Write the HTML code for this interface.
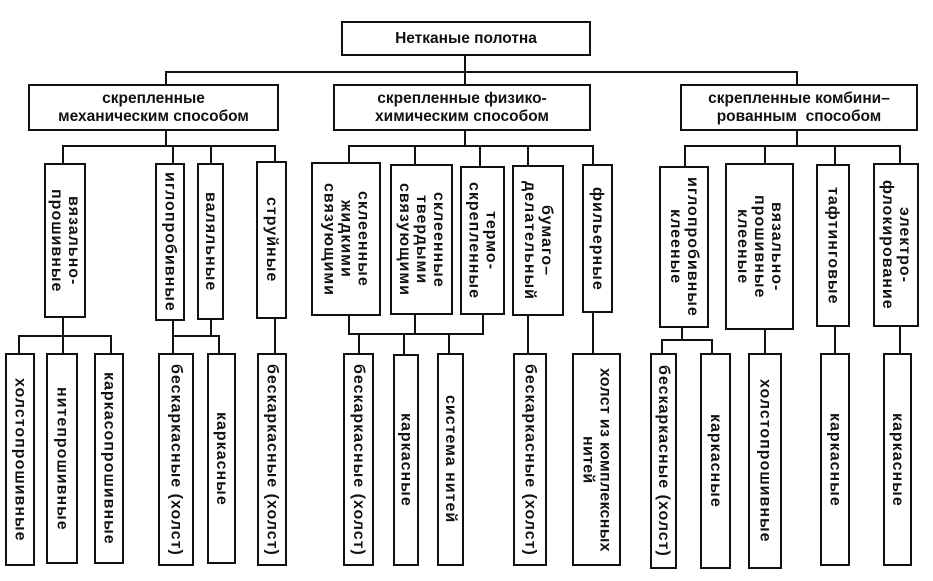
<!DOCTYPE html>
<html><head><meta charset="utf-8"><style>
body{margin:0;width:933px;height:581px;background:#fff;position:relative;overflow:hidden;font-family:"Liberation Sans",Arial,sans-serif;font-weight:bold;color:#111}
.b{position:absolute;border:2px solid #111;box-sizing:border-box;display:flex;align-items:center;justify-content:center;text-align:center;background:#fff}
.h{font-size:15.5px;line-height:18px}
.v{writing-mode:vertical-rl;font-size:16px;line-height:17px;letter-spacing:1px}
.l{position:absolute;background:#111}
</style></head><body>
<div class="b h" style="left:341px;top:21px;width:250px;height:35px">Нетканые полотна</div>
<div class="l" style="left:464px;top:55px;width:2px;height:30px"></div>
<div class="l" style="left:165px;top:71px;width:633px;height:2px"></div>
<div class="l" style="left:165px;top:71px;width:2px;height:14px"></div>
<div class="l" style="left:796px;top:71px;width:2px;height:14px"></div>
<div class="b h" style="left:28px;top:84px;width:251px;height:47px">скрепленные<br>механическим способом</div>
<div class="b h" style="left:333px;top:84px;width:258px;height:47px">скрепленные физико-<br>химическим способом</div>
<div class="b h" style="left:680px;top:84px;width:238px;height:47px">скрепленные комбини–<br>рованным &nbsp;способом</div>

<!-- group 1 -->
<div class="l" style="left:165px;top:130px;width:2px;height:16px"></div>
<div class="l" style="left:62px;top:145px;width:214px;height:2px"></div>
<div class="l" style="left:62px;top:145px;width:2px;height:18px"></div>
<div class="l" style="left:172px;top:145px;width:2px;height:18px"></div>
<div class="l" style="left:210px;top:145px;width:2px;height:18px"></div>
<div class="l" style="left:274px;top:145px;width:2px;height:18px"></div>
<div class="b v" style="left:44px;top:163px;width:42px;height:155px">вязально-<br>прошивные</div>
<div class="b v" style="left:155px;top:163px;width:30px;height:158px">иглопробивные</div>
<div class="b v" style="left:197px;top:163px;width:27px;height:157px">валяльные</div>
<div class="b v" style="left:256px;top:161px;width:31px;height:158px">струйные</div>
<div class="l" style="left:62px;top:317px;width:2px;height:20px"></div>
<div class="l" style="left:18px;top:335px;width:94px;height:2px"></div>
<div class="l" style="left:18px;top:335px;width:2px;height:18px"></div>
<div class="l" style="left:62px;top:335px;width:2px;height:18px"></div>
<div class="l" style="left:110px;top:335px;width:2px;height:18px"></div>
<div class="b v" style="left:5px;top:353px;width:30px;height:213px">холстопрошивные</div>
<div class="b v" style="left:46px;top:353px;width:32px;height:211px">нитепрошивные</div>
<div class="b v" style="left:94px;top:353px;width:30px;height:211px">каркасопрошивные</div>
<div class="l" style="left:172px;top:320px;width:2px;height:33px"></div>
<div class="l" style="left:210px;top:319px;width:2px;height:18px"></div>
<div class="l" style="left:172px;top:335px;width:48px;height:2px"></div>
<div class="l" style="left:218px;top:335px;width:2px;height:18px"></div>
<div class="b v" style="left:158px;top:353px;width:36px;height:213px">бескаркасные (холст)</div>
<div class="b v" style="left:207px;top:353px;width:29px;height:211px">каркасные</div>
<div class="l" style="left:274px;top:318px;width:2px;height:35px"></div>
<div class="b v" style="left:257px;top:353px;width:30px;height:213px">бескаркасные (холст)</div>

<!-- group 2 -->
<div class="l" style="left:464px;top:130px;width:2px;height:16px"></div>
<div class="l" style="left:348px;top:145px;width:246px;height:2px"></div>
<div class="l" style="left:348px;top:145px;width:2px;height:17px"></div>
<div class="l" style="left:414px;top:145px;width:2px;height:19px"></div>
<div class="l" style="left:479px;top:145px;width:2px;height:21px"></div>
<div class="l" style="left:527px;top:145px;width:2px;height:20px"></div>
<div class="l" style="left:592px;top:145px;width:2px;height:19px"></div>
<div class="b v" style="left:311px;top:162px;width:70px;height:154px">склеенные<br>жидкими<br>связующими</div>
<div class="b v" style="left:390px;top:164px;width:63px;height:151px">склеенные<br>твердыми<br>связующими</div>
<div class="b v" style="left:460px;top:166px;width:45px;height:149px">термо-<br>скрепленные</div>
<div class="b v" style="left:512px;top:165px;width:52px;height:151px">бумаго–<br>делательный</div>
<div class="b v" style="left:582px;top:164px;width:31px;height:149px">фильерные</div>
<div class="l" style="left:348px;top:315px;width:2px;height:20px"></div>
<div class="l" style="left:414px;top:314px;width:2px;height:21px"></div>
<div class="l" style="left:482px;top:314px;width:2px;height:21px"></div>
<div class="l" style="left:348px;top:333px;width:136px;height:2px"></div>
<div class="l" style="left:358px;top:333px;width:2px;height:20px"></div>
<div class="l" style="left:403px;top:333px;width:2px;height:21px"></div>
<div class="l" style="left:448px;top:333px;width:2px;height:20px"></div>
<div class="b v" style="left:343px;top:353px;width:31px;height:213px">бескаркасные (холст)</div>
<div class="b v" style="left:393px;top:354px;width:26px;height:212px">каркасные</div>
<div class="b v" style="left:437px;top:353px;width:27px;height:213px">система нитей</div>
<div class="l" style="left:527px;top:315px;width:2px;height:38px"></div>
<div class="b v" style="left:513px;top:353px;width:34px;height:213px">бескаркасные (холст)</div>
<div class="l" style="left:592px;top:312px;width:2px;height:41px"></div>
<div class="b v" style="left:572px;top:353px;width:49px;height:213px;letter-spacing:0.3px">холст из комплексных<br>нитей</div>

<!-- group 3 -->
<div class="l" style="left:796px;top:130px;width:2px;height:16px"></div>
<div class="l" style="left:684px;top:145px;width:217px;height:2px"></div>
<div class="l" style="left:684px;top:145px;width:2px;height:21px"></div>
<div class="l" style="left:764px;top:145px;width:2px;height:18px"></div>
<div class="l" style="left:834px;top:145px;width:2px;height:19px"></div>
<div class="l" style="left:899px;top:145px;width:2px;height:18px"></div>
<div class="b v" style="left:659px;top:166px;width:50px;height:162px">иглопробивные<br>клееные</div>
<div class="b v" style="left:725px;top:163px;width:69px;height:167px">вязально-<br>прошивные<br>клееные</div>
<div class="b v" style="left:816px;top:164px;width:34px;height:163px">тафтинговые</div>
<div class="b v" style="left:873px;top:163px;width:46px;height:164px">электро-<br>флокирование</div>
<div class="l" style="left:681px;top:327px;width:2px;height:13px"></div>
<div class="l" style="left:661px;top:339px;width:52px;height:2px"></div>
<div class="l" style="left:661px;top:339px;width:2px;height:14px"></div>
<div class="l" style="left:711px;top:339px;width:2px;height:14px"></div>
<div class="b v" style="left:650px;top:353px;width:27px;height:216px">бескаркасные (холст)</div>
<div class="b v" style="left:700px;top:353px;width:31px;height:216px">каркасные</div>
<div class="l" style="left:764px;top:329px;width:2px;height:24px"></div>
<div class="b v" style="left:748px;top:353px;width:34px;height:216px">холстопрошивные</div>
<div class="l" style="left:834px;top:326px;width:2px;height:27px"></div>
<div class="b v" style="left:820px;top:353px;width:30px;height:213px">каркасные</div>
<div class="l" style="left:899px;top:326px;width:2px;height:27px"></div>
<div class="b v" style="left:883px;top:353px;width:29px;height:213px">каркасные</div>
</body></html>
